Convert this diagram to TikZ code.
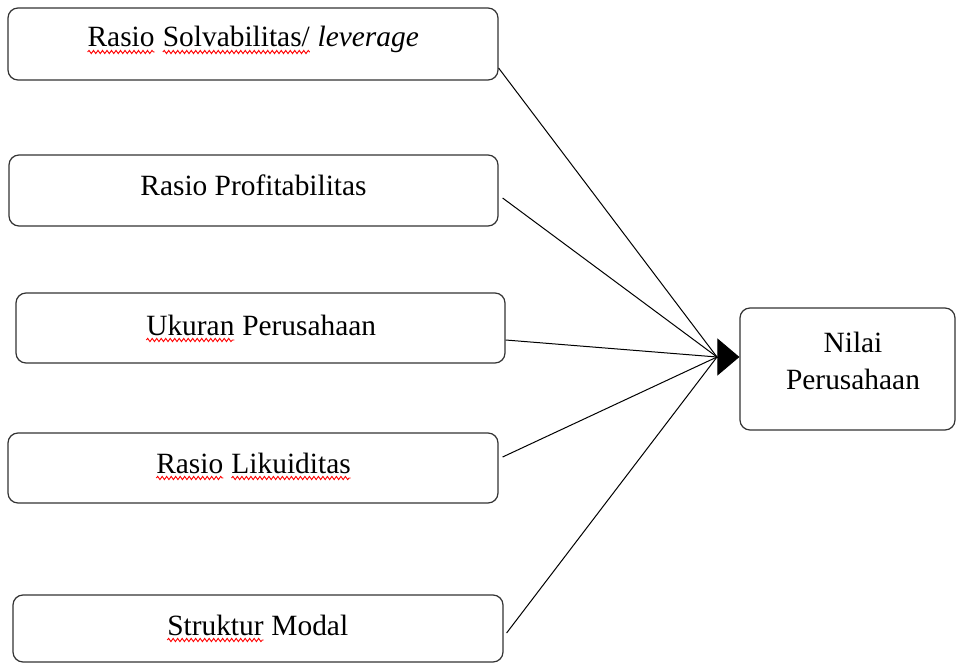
\documentclass[tikz,border=0pt]{standalone}
\usepackage{fontspec}
\setmainfont{Liberation Serif}
\usetikzlibrary{arrows.meta,decorations.pathmorphing}
\newcommand\spl[1]{\tikz[baseline=(w.base)]{\node[inner sep=0pt,outer sep=0pt,anchor=base,draw=none](w){#1};\draw[red,line width=0.9pt,decorate,decoration={snake,amplitude=1.6pt,segment length=4.5pt}] ([yshift=-5pt]w.base west) -- ([yshift=-5pt]w.base east);}}
\tikzset{
  box/.style={draw=black!80,line width=1.2pt,rounded corners=10pt,inner sep=0pt,fill=none},
  lbl/.style={anchor=base,inner sep=0pt,font=\fontsize{29.4}{37}\selectfont,text=black},
  conn/.style={draw=black,line width=1pt},
}
\begin{document}
\begin{tikzpicture}[x=1pt,y=-1pt]
\useasboundingbox[fill=white] (0,0) rectangle (956,663);
% boxes
\node[box,minimum width=490pt,minimum height=72pt] (b1) at (253,44) {};
\node[box,minimum width=489pt,minimum height=71pt] (b2) at (253.5,190.5) {};
\node[box,minimum width=489pt,minimum height=70pt] (b3) at (260.5,328) {};
\node[box,minimum width=490pt,minimum height=70pt] (b4) at (253,468) {};
\node[box,minimum width=490pt,minimum height=67pt] (b5) at (258,628.5) {};
\node[box,minimum width=215pt,minimum height=122pt] (r) at (847.5,369) {};
% labels
\node[lbl] (t1) at (253,47) {\spl{Rasio} \spl{Solvabilitas/} \textit{leverage}};
\node[lbl] (t2) at (253.5,196) {Rasio Profitabilitas};
\node[lbl] (t3) at (261,335) {\spl{Ukuran} Perusahaan};
\node[lbl] (t4) at (253.5,473) {\spl{Rasio} \spl{Likuiditas}};
\node[lbl] (t5) at (257.5,635) {\spl{Struktur} Modal};
\node[lbl] (t6) at (853,352) {Nilai};
\node[lbl] (t7) at (853,389) {Perusahaan};
% connectors
\coordinate (hub) at (717,357);
\draw[conn] ([yshift=-24pt]b1.east) -- (hub);
\draw[conn] ([xshift=4pt,yshift=-7.5pt]b2.east) -- (hub);
\draw[conn] ([yshift=-12pt]b3.east) -- (hub);
\draw[conn] ([xshift=4pt,yshift=11pt]b4.east) -- (hub);
\draw[conn] ([xshift=3pt,yshift=-4.5pt]b5.east) -- (hub);
\draw[conn,-{Triangle[length=22pt,width=37pt]}] (hub) -- ([yshift=12pt]r.west);
\end{tikzpicture}
\end{document}
